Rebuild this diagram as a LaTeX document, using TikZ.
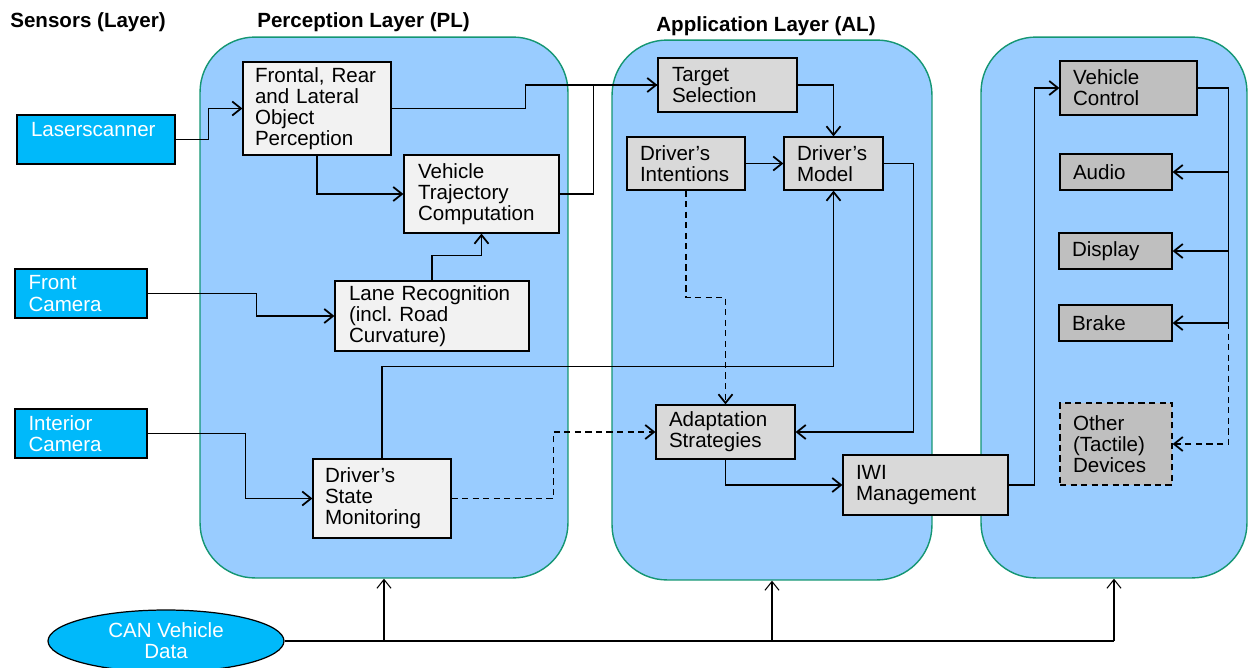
\documentclass[tikz,border=0pt]{standalone}
\usepackage{fontspec}
\setmainfont{Liberation Sans}
\usetikzlibrary{arrows.meta,shapes.geometric}
\definecolor{panelblue}{HTML}{99CCFF}
\definecolor{panelline}{RGB}{20,150,115}
\definecolor{sensorblue}{RGB}{0,185,250}
\newcommand{\boxfont}{\fontsize{11.7}{12}\selectfont\frenchspacing}
\tikzset{
	panel/.style={draw=panelline, line width=0.8pt, fill=panelblue, rounded corners=1.1cm, inner sep=0pt},
	box/.style={draw, line width=0.7pt, align=left, inner sep=0pt, font=\boxfont},
	sensor/.style={box, fill=sensorblue, text=white},
	plbox/.style={box, fill=black!5},
	albox/.style={box, fill=black!15},
	outbox/.style={box, fill=black!25},
	title/.style={anchor=west, inner sep=0pt, font=\boxfont\bfseries},
	wire/.style={line width=1pt},
	conn/.style={wire, -{Straight Barb[length=5pt,width=8pt]}},
	dashy/.style={dash pattern=on 3.5pt off 2.5pt},
}
\begin{document}
\begin{tikzpicture}[x=0.02cm,y=-0.02cm]
				\useasboundingbox (0,0) rectangle (1248,667);
				
				% the three layer panels
				\node[panel, minimum width=7.36cm, minimum height=10.82cm] (pl) at (384,307.5) {};
				\node[panel, minimum width=6.4cm, minimum height=10.8cm] (al) at (772,310) {};
				\node[panel, minimum width=5.32cm, minimum height=10.82cm] (out) at (1114,307.5) {};
				
				\node[title] at (10,22) {Sensors (Layer)};
				\node[title] at (257,22) {Perception Layer (PL)};
				\node[title] at (656,26) {Application Layer (AL)};
				
				% sensors
				\node[sensor, minimum width=3.16cm, minimum height=0.98cm, text width=2.6cm] (laser) at (96,139.5) {Laserscanner\\ \mbox{}};
				\node[sensor, minimum width=2.64cm, minimum height=0.98cm, text width=2.1cm] (front) at (81,293.5) {Front\\Camera};
				\node[sensor, minimum width=2.64cm, minimum height=0.98cm, text width=2.1cm] (interior) at (81,433.5) {Interior\\Camera};
				
				% perception layer
				\node[plbox, minimum width=2.96cm, minimum height=1.86cm, text width=2.48cm] (frontal) at (317,108.5) {Frontal, Rear\\and Lateral\\Object\\Perception};
				\node[plbox, minimum width=3.1cm, minimum height=1.56cm, text width=2.54cm] (vtc) at (481.5,194) {Vehicle\\Trajectory\\Computation};
				\node[plbox, minimum width=3.88cm, minimum height=1.4cm, text width=3.32cm] (lane) at (432,316) {Lane Recognition\\(incl. Road\\Curvature)};
				\node[plbox, minimum width=2.76cm, minimum height=1.58cm, text width=2.28cm] (dsm) at (382,498.5) {Driver’s\\State\\Monitoring};
				
				% application layer
				\node[albox, minimum width=2.78cm, minimum height=1.08cm, text width=2.22cm] (target) at (727.5,85) {Target\\Selection};
				\node[albox, minimum width=2.36cm, minimum height=1.06cm, text width=1.84cm] (intent) at (686,163.5) {Driver’s\\Intentions};
				\node[albox, minimum width=1.98cm, minimum height=1.06cm, text width=1.46cm] (model) at (833.5,163.5) {Driver’s\\Model};
				\node[albox, minimum width=2.78cm, minimum height=1.08cm, text width=2.26cm] (adapt) at (725.5,432) {Adaptation\\Strategies};
				\node[albox, minimum width=3.3cm, minimum height=1.2cm, text width=2.78cm] (iwi) at (925.5,485) {IWI\\Management};
				
				% output devices
				\node[outbox, minimum width=2.74cm, minimum height=1.08cm, text width=2.22cm] (vctrl) at (1128.5,88) {Vehicle\\Control};
				\node[outbox, minimum width=2.24cm, minimum height=0.72cm, text width=1.72cm] (audio) at (1116,172) {Audio};
				\node[outbox, minimum width=2.26cm, minimum height=0.72cm, text width=1.74cm] (display) at (1115.5,251) {Display};
				\node[outbox, minimum width=2.26cm, minimum height=0.72cm, text width=1.74cm] (brake) at (1115.5,323) {Brake};
				\node[outbox, dashy, minimum width=2.24cm, minimum height=1.64cm, text width=1.72cm] (other) at (1116,444) {Other\\(Tactile)\\Devices};
				
				\node[ellipse, draw, line width=0.7pt, fill=sensorblue, text=white, font=\boxfont, align=center,
				minimum width=4.72cm, minimum height=1.24cm, inner sep=0pt] (can) at (166,641) {CAN Vehicle\\Data};
				
				% connections
				\draw[conn] (laser.east) -- ++(33,0) |- (frontal.west);
				\draw[conn] (frontal.east) -- ++(134,0) |- (target.west);
				\draw[conn] (frontal.south) |- (vtc.west);
				\draw[wire] (vtc.east) -- ++(34,0) |- (target.west);
				\draw[conn] (lane.north) -- ++(0,-25) -| (vtc.south);
				\draw[conn] (front.east) -- ++(109,0) |- (lane.west);
				\draw[conn] (interior.east) -- ++(98,0) |- (dsm.west);
				\draw[conn] (dsm.north) -- ++(0,-92) -| (model.south);
				\draw[conn, dashy] (dsm.east) -- ++(102,0) |- (adapt.west);
				\draw[conn] (target.east) -| (model.north);
				\draw[conn] (intent.east) -- (model.west);
				\draw[conn, dashy] (intent.south) -- ++(0,107) -| (adapt.north);
				\draw[conn] (model.east) -- ++(30,0) |- (adapt.east);
				\draw[conn] (adapt.south) |- (iwi.west);
				\draw[conn] (iwi.east) -- ++(26,0) |- (vctrl.west);
				
				\path (vctrl.east) ++(31,0) coordinate (bus);
				\draw[wire] (vctrl.east) -- (bus) -- (bus |- brake.east);
				\foreach \dev in {audio,display,brake}{% one branch per device
					\draw[conn] (bus |- \dev.east) -- (\dev.east);
				}
				\draw[conn, dashy] (bus |- brake.east) |- (other.east);
				
				% CAN bus feeding every layer
				\draw[line width=1.2pt] (can.east) -- (can.east -| out.south);
				\foreach \lay in {pl,al,out}{%
					\draw[conn, line width=0.6pt] (can.east -| \lay.south) -- (\lay.south);
				}
\end{tikzpicture}
\end{document}
